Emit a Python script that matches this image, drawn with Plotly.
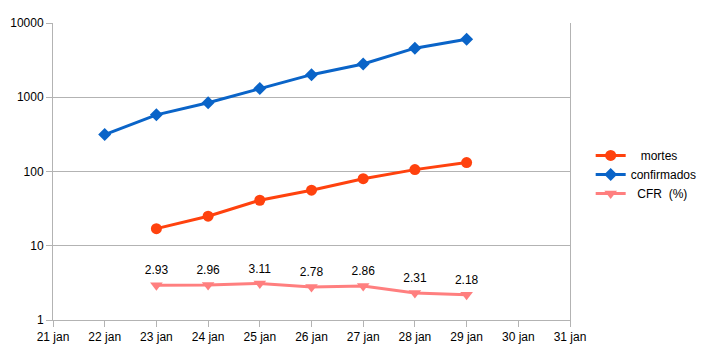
import plotly.graph_objects as go

days = [21, 22, 23, 24, 25, 26, 27, 28, 29, 30, 31]
day_labels = ["21 jan", "22 jan", "23 jan", "24 jan", "25 jan", "26 jan", "27 jan", "28 jan", "29 jan", "30 jan", "31 jan"]

conf_days = [22, 23, 24, 25, 26, 27, 28, 29]
confirmados = [314, 579, 844, 1312, 2015, 2801, 4579, 6061]

mortes_days = [23, 24, 25, 26, 27, 28, 29]
mortes = [17, 25, 41, 56, 80, 106, 132]

cfr_days = [23, 24, 25, 26, 27, 28, 29]
cfr = [2.93, 2.96, 3.11, 2.78, 2.86, 2.31, 2.18]
cfr_labels = ["2.93", "2.96", "3.11", "2.78", "2.86", "2.31", "2.18"]

fig = go.Figure()
fig.add_trace(go.Scatter(x=mortes_days, y=mortes, name="   mortes", mode="lines+markers",
                         line=dict(color="#ff420e", width=3),
                         marker=dict(symbol="circle", size=11, color="#ff420e")))
fig.add_trace(go.Scatter(x=conf_days, y=confirmados, name="confirmados", mode="lines+markers",
                         line=dict(color="#0a64c8", width=3),
                         marker=dict(symbol="diamond", size=10, color="#0a64c8")))
fig.add_trace(go.Scatter(x=cfr_days, y=cfr, name="  CFR  (%)", mode="lines+markers+text",
                         text=cfr_labels, textposition="top center",
                         textfont=dict(size=12, color="#000000"),
                         line=dict(color="#ff7f7f", width=3),
                         marker=dict(symbol="triangle-down", size=11, color="#ff7f7f")))

fig.update_layout(
    width=703, height=354,
    margin=dict(l=53, r=133, t=23, b=34, autoexpand=False),
    paper_bgcolor="white", plot_bgcolor="white",
    font=dict(family="Liberation Sans, Arial, sans-serif", size=12, color="#000000"),
    showlegend=True,
    legend=dict(x=1.04, y=0.49, xanchor="left", yanchor="middle",
                font=dict(size=12), tracegroupgap=0),
)
fig.update_xaxes(range=[21, 31], tickvals=days, ticktext=day_labels,
                 showline=True, linecolor="#b3b3b3", linewidth=1,
                 ticks="outside", ticklen=6, tickcolor="#b3b3b3",
                 showgrid=False, zeroline=False)
fig.update_yaxes(type="log", range=[0, 4], tickvals=[1, 10, 100, 1000, 10000],
                 ticktext=["1", "10", "100", "1000", "10000"],
                 showline=True, mirror=True, linecolor="#b3b3b3", linewidth=1,
                 ticks="outside", ticklen=6, tickcolor="#b3b3b3",
                 showgrid=True, gridcolor="#b3b3b3", gridwidth=1, zeroline=False)

fig.write_html("out.html")
